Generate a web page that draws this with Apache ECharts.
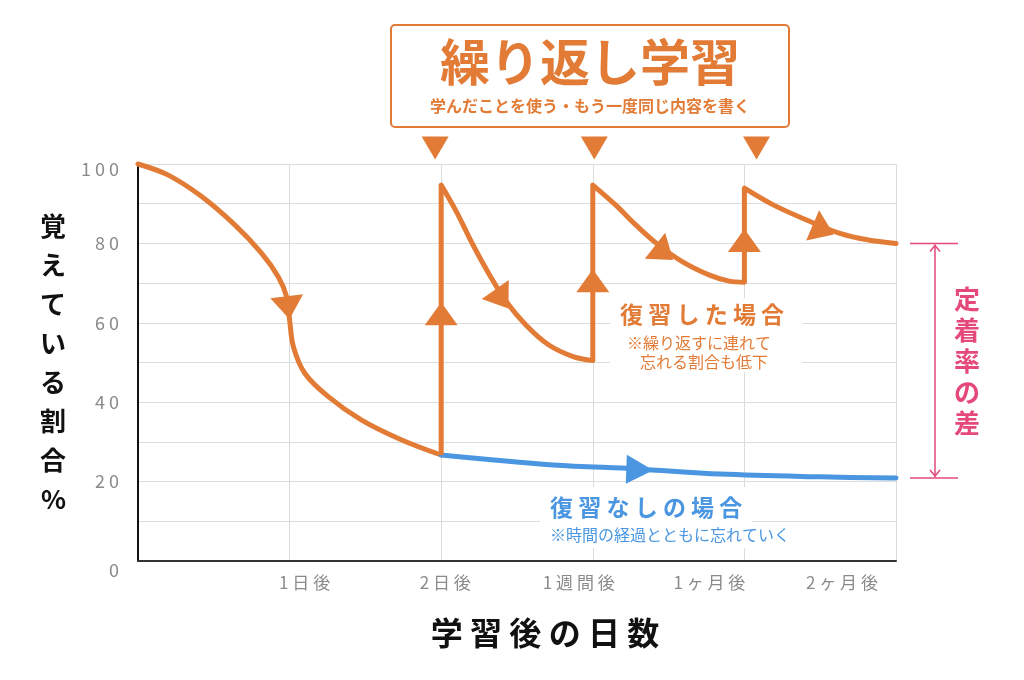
<!DOCTYPE html>
<html>
<head>
<meta charset="utf-8">
<title>繰り返し学習</title>
<script src="https://cdn.jsdelivr.net/npm/echarts@6/dist/echarts.min.js"></script>
<style>
  html,body{margin:0;padding:0;background:#fff;}
  #main{width:1024px;height:680px;}
</style>
</head>
<body>
<div id="main"></div>
<script>
// ---- データ ----
var xLabels = ['', '1日後', '2日後', '1週間後', '1ヶ月後', '2ヶ月後'];
// 復習なし（忘却曲線）
var forgetCurve = [[0,100],[0.2,97.2],[0.42,91.8],[0.64,84.6],[0.816,77.5],[0.925,71.6],[0.98,66.6],[1.0,60.7],[1.025,54],[1.1,47.3],[1.255,41.4],[1.475,35.5],[1.74,30.5],[2,26.7]];
var noReviewCurve = [[2,26.7],[2.74,24.2],[3.29,23.2],[3.84,21.9],[4.5,21.2],[5,20.9]];
// 復習した場合
var review1 = [[2,94.7],[2.1,88],[2.21,79.6],[2.32,72],[2.43,65.3],[2.56,59.4],[2.71,54.4],[2.87,51.5],[3,50.5]];
var review2 = [[3,94.7],[3.15,89.7],[3.285,84.6],[3.42,80],[3.59,75.4],[3.77,72],[3.9,70.5],[4,70.2]];
var review3 = [[4,93.9],[4.19,89.7],[4.41,85.9],[4.63,82.5],[4.81,80.9],[5,80]];
// 復習時の上昇 [x, 前, 後]
var reviewJumps = [[2,26.7,94.7],[3,50.5,94.7],[4,70.2,93.9]];
// 矢印 [x, y, 回転]
var orangeArrows = [[0.99,63.8,-173],[2,62.3,0],[2.40,66,-145],[3,70.6,0],[3.47,77.6,-128],[4,80.7,0],[4.52,83.4,-113]];
var blueArrows = [[3.31,23,-92]];
var reviewMarks = [[1.96,104],[3.01,104],[4.08,104]];

var ORANGE = '#E27B36';
var BLUE = '#4A96E0';
var PINK = '#E5497A';
var FONT = '"Noto Sans CJK JP", "Noto Sans", sans-serif';

function spaced(t) { return String(t).split('').join(' '); }

var series = [];
function curve(data, color) {
    return { type: 'line', data: data, smooth: 0.35, symbol: 'none', clip: false, z: 3,
             lineStyle: { color: color, width: 5, cap: 'round', join: 'round' } };
}
series.push(curve(forgetCurve, ORANGE));
series.push(curve(review1, ORANGE));
series.push(curve(review2, ORANGE));
series.push(curve(review3, ORANGE));
series.push(curve(noReviewCurve, BLUE));
reviewJumps.forEach(function (j) {
    series.push({ type: 'line', data: [[j[0], j[1]], [j[0], j[2]]], symbol: 'none', clip: false, z: 3,
                  lineStyle: { color: ORANGE, width: 5, join: 'round' } });
});
series.push({ type: 'scatter', symbol: 'triangle', symbolSize: [33, 23], clip: false, z: 4,
    itemStyle: { color: ORANGE, opacity: 1 },
    data: orangeArrows.map(function (a) { return { value: [a[0], a[1]], symbolRotate: a[2] }; }) });
series.push({ type: 'scatter', symbol: 'triangle', symbolSize: [29, 27], clip: false, z: 4,
    itemStyle: { color: BLUE, opacity: 1 },
    data: blueArrows.map(function (a) { return { value: [a[0], a[1]], symbolRotate: a[2] }; }) });
series.push({ type: 'scatter', symbol: 'triangle', symbolSize: [27, 23], symbolRotate: 180, clip: false, z: 4,
    itemStyle: { color: ORANGE, opacity: 1 }, data: reviewMarks });

var xRich = {};
var xShift = [0, 30, 8, -28, -70, -108];
for (var i = 1; i < xShift.length; i++) {
    xRich['s' + i] = { fontSize: 17, color: '#8a8a8a', fontFamily: FONT,
        padding: xShift[i] > 0 ? [0, 0, 0, xShift[i]] : [0, -xShift[i], 0, 0] };
}

var option = {
    animation: false,
    backgroundColor: '#fff',
    grid: { left: 138, right: 128, top: 164, bottom: 119 },
    xAxis: {
        type: 'value', min: 0, max: 5, interval: 1,
        axisLine: { lineStyle: { color: '#333', width: 2 } },
        axisTick: { show: false },
        splitLine: { show: true, lineStyle: { color: '#dcdcdc', width: 1 } },
        axisLabel: {
            margin: 13, color: '#8a8a8a', fontSize: 17, fontFamily: FONT, rich: xRich,
            formatter: function (v) {
                var i = Math.round(v);
                return xLabels[i] ? '{s' + i + '|' + spaced(xLabels[i]) + '}' : '';
            }
        },
        name: spaced('学習後の日数'), nameLocation: 'middle', nameGap: 56,
        nameTextStyle: { color: '#111', fontSize: 32, fontWeight: 'bold', fontFamily: FONT, padding: [0, 0, 0, 56] }
    },
    yAxis: {
        type: 'value', min: 0, max: 100, interval: 20,
        axisLine: { show: true, lineStyle: { color: '#111', width: 2 } },
        axisTick: { show: false },
        splitLine: { lineStyle: { color: '#dcdcdc' } },
        minorTick: { show: false, splitNumber: 2 },
        minorSplitLine: { show: true, lineStyle: { color: '#dcdcdc' } },
        axisLabel: {
            margin: 19, color: '#8a8a8a', fontSize: 18, fontFamily: FONT,
            rich: {
                lo: { fontSize: 18, color: '#8a8a8a', fontFamily: FONT, padding: [18, 0, 0, 0] },
                hi: { fontSize: 18, color: '#8a8a8a', fontFamily: FONT, padding: [10, 0, 0, 0] }
            },
            formatter: function (v) {
                if (v === 0) return '{lo|0}';
                if (v === 100) return '{hi|' + spaced(v) + '}';
                return spaced(v);
            }
        },
        name: '覚えている割合%'.split('').join('\n'), nameLocation: 'middle', nameRotate: 0, nameGap: 72,
        nameTextStyle: { color: '#111', fontSize: 26, fontWeight: 'bold', fontFamily: FONT, lineHeight: 39 }
    },
    series: series
};

var chart = echarts.init(document.getElementById('main'));
chart.setOption(option);

// 注釈（定着率の差は曲線の終点から求める）
var endTop = chart.convertToPixel({ gridIndex: 0 }, review3[review3.length - 1]);
var endBot = chart.convertToPixel({ gridIndex: 0 }, noReviewCurve[noReviewCurve.length - 1]);
var bx = endTop[0] + 39;
var yT = endTop[1], yB = endBot[1];

function txt(s, x, y, size, color, weight, align, extra) {
    var st = { text: s, fill: color, fontSize: size, fontWeight: weight || 'bold', fontFamily: FONT,
               align: align || 'left', verticalAlign: 'middle' };
    for (var k in extra) st[k] = extra[k];
    return { type: 'text', x: x, y: y, z: 10, style: st };
}

chart.setOption({
    graphic: [
        { type: 'rect', z: 10, shape: { x: 391, y: 25, width: 398, height: 102, r: 4 },
          style: { fill: '#fff', stroke: ORANGE, lineWidth: 2 } },
        txt('繰り返し学習', 590, 62, 50, ORANGE, 'bold', 'center'),
        txt('学んだことを使う・もう一度同じ内容を書く', 590, 106, 16, ORANGE, 'bold', 'center'),
        // 復習した場合
        { type: 'rect', z: 9, shape: { x: 610, y: 298, width: 192, height: 74 }, style: { fill: '#fff' } },
        txt(spaced('復習した場合'), 620, 314, 23, ORANGE, 'bold'),
        txt('※繰り返すに連れて', 627, 343, 16, ORANGE, 'normal'),
        txt('忘れる割合も低下', 640, 362, 16, ORANGE, 'normal'),
        // 復習なしの場合
        { type: 'rect', z: 9, shape: { x: 540, y: 487, width: 212, height: 40 }, style: { fill: '#fff' } },
        { type: 'rect', z: 9, shape: { x: 540, y: 526, width: 262, height: 22 }, style: { fill: '#fff' } },
        txt(spaced('復習なしの場合'), 550, 507, 23, BLUE, 'bold'),
        txt('※時間の経過とともに忘れていく', 550, 535, 16, BLUE, 'normal'),
        // 定着率の差
        { type: 'line', z: 10, shape: { x1: bx - 25, y1: yT, x2: bx + 23, y2: yT }, style: { stroke: PINK, lineWidth: 1.5 } },
        { type: 'line', z: 10, shape: { x1: bx - 25, y1: yB, x2: bx + 23, y2: yB }, style: { stroke: PINK, lineWidth: 1.5 } },
        { type: 'line', z: 10, shape: { x1: bx, y1: yT + 1, x2: bx, y2: yB - 1 }, style: { stroke: PINK, lineWidth: 1.5 } },
        { type: 'polyline', z: 10, shape: { points: [[bx - 5, yT + 8], [bx, yT + 2], [bx + 5, yT + 8]] }, style: { stroke: PINK, lineWidth: 1.5, fill: null } },
        { type: 'polyline', z: 10, shape: { points: [[bx - 5, yB - 8], [bx, yB - 2], [bx + 5, yB - 8]] }, style: { stroke: PINK, lineWidth: 1.5, fill: null } },
        txt('定着率の差'.split('').join('\n'), bx + 32, (yT + yB) / 2, 26, PINK, 'bold', 'center', { lineHeight: 31 })
    ]
});

window.onresize = function () { chart.resize(); };
</script>
</body>
</html>
